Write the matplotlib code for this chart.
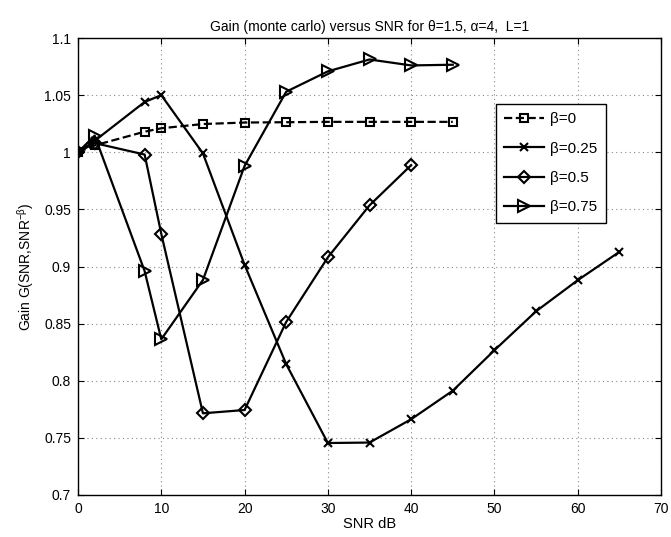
import matplotlib
matplotlib.use('Agg')
import matplotlib.pyplot as plt

plt.rcParams['font.family'] = ['Liberation Sans', 'DejaVu Sans']
plt.rcParams['mathtext.default'] = 'regular'

# SNR points (dB)
snr_b0 = [0, 2, 8, 10, 15, 20, 25, 30, 35, 40, 45]
gain_b0 = [1.0, 1.006, 1.018, 1.021, 1.0247, 1.026, 1.0263, 1.0266, 1.0266, 1.0266, 1.0266]

snr_b025 = [0, 2, 8, 10, 15, 20, 25, 30, 35, 40, 45, 50, 55, 60, 65]
gain_b025 = [1.0, 1.01, 1.044, 1.05, 0.999, 0.9015, 0.8145, 0.7455, 0.7459, 0.7663,
             0.7913, 0.8267, 0.8608, 0.888, 0.9128]

snr_b05 = [0, 2, 8, 10, 15, 20, 25, 30, 35, 40]
gain_b05 = [1.0, 1.008, 0.998, 0.9286, 0.7715, 0.7744, 0.8515, 0.908, 0.9535, 0.9887]

snr_b075 = [0, 2, 8, 10, 15, 20, 25, 30, 35, 40, 45]
gain_b075 = [1.0, 1.0146, 0.896, 0.8363, 0.8882, 0.988, 1.053, 1.0708, 1.0812, 1.076, 1.0766]

labels = ['β=0', 'β=0.25', 'β=0.5', 'β=0.75']

fig = plt.figure(figsize=(6.71, 5.37), dpi=100)
ax = fig.add_axes([78 / 671, 1 - 495 / 537, (661 - 78) / 671, (495 - 38) / 537])

lw = 1.6
ax.plot(snr_b0, gain_b0, '--', color='k', lw=lw, marker='s', ms=6,
        mfc='none', mew=1.5, label=labels[0])
ax.plot(snr_b025, gain_b025, '-', color='k', lw=lw, marker='x', ms=6,
        mew=1.5, label=labels[1])
ax.plot(snr_b05, gain_b05, '-', color='k', lw=lw, marker='D', ms=6.5,
        mfc='none', mew=1.5, label=labels[2])
ax.plot(snr_b075, gain_b075, '-', color='k', lw=lw, marker='>', ms=9,
        mfc='none', mew=1.5, label=labels[3])

ax.set_xlim(0, 70)
ax.set_ylim(0.7, 1.1)
ax.set_xticks(range(0, 71, 10))
ax.set_yticks([0.7, 0.75, 0.8, 0.85, 0.9, 0.95, 1.0, 1.05, 1.1])
ax.set_yticklabels(['0.7', '0.75', '0.8', '0.85', '0.9', '0.95', '1', '1.05', '1.1'])
ax.tick_params(direction='in', top=True, right=True, labelsize=10, length=4, pad=5)
ax.grid(True, linestyle=(0, (1, 3)), color='#888888', linewidth=0.8)
for s in ax.spines.values():
    s.set_linewidth(1.0)

ax.set_xlabel('SNR dB', fontsize=10.5, labelpad=1)
ax.set_ylabel('Gain G(SNR,SNR$^{-β}$)', fontsize=10, labelpad=6)
ax.set_title('Gain (monte carlo) versus SNR for θ=1.5, α=4,  L=1', fontsize=10, pad=5)

leg = ax.legend(loc='upper left', bbox_to_anchor=((496 - 78) / 583, 1 - (104 - 38) / 457),
                fontsize=11, fancybox=False, framealpha=1, edgecolor='k',
                handlelength=2.6, borderpad=0.55, labelspacing=1.0, handletextpad=0.4,
                borderaxespad=0)
leg.get_frame().set_linewidth(1.0)

fig.savefig('out.png', dpi=100)
